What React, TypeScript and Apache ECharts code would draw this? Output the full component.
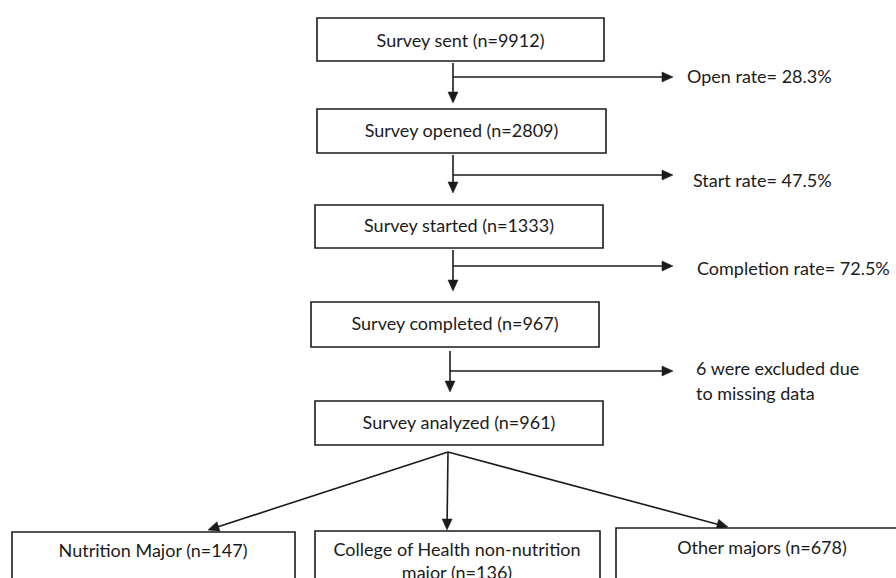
import { useEffect, useRef } from "react";
import * as echarts from "echarts";

// ---- data ----
const stageNames = ["Survey sent", "Survey opened", "Survey started", "Survey completed", "Survey analyzed"];
const stageCounts = [9912, 2809, 1333, 967, 961];
const rateNames = ["Open rate", "Start rate", "Completion rate"];
const rateValues = [28.3, 47.5, 72.5];
const excludedCount = 6;
const excludedReason = "were excluded due\nto missing data";
const groupNames = ["Nutrition Major", "College of Health non-nutrition\nmajor", "Other majors"];
const groupCounts = [147, 136, 678];

// ---- layout ----
const stageBoxes = [
  { x: 317, y: 18, w: 287, h: 43, ty: 40 },
  { x: 317, y: 109, w: 289, h: 44, ty: 130 },
  { x: 315, y: 205, w: 288, h: 43, ty: 225 },
  { x: 311, y: 302, w: 288, h: 45, ty: 323 },
  { x: 315, y: 401, w: 288, h: 44, ty: 422 },
];
const sideArrows = [
  { x: 453, y0: 63, y1: 103, hy: 77, tx: 687, ty: 76 },
  { x: 453, y0: 155, y1: 193, hy: 175, tx: 693, ty: 180 },
  { x: 453, y0: 250, y1: 291, hy: 266, tx: 697, ty: 268 },
  { x: 450, y0: 351, y1: 392, hy: 371, tx: 696, ty: 380.5 },
];
const arrowTipX = 673;
const groupBoxes = [
  { x: 12, y: 532, w: 283, h: 100, cx: 153, ty: 550 },
  { x: 315, y: 531, w: 285, h: 100, cx: 457, ty: 560.5 },
  { x: 616, y: 528, w: 292, h: 100, cx: 762, ty: 547 },
];
const apex = [448, 452];
const branchTips = [
  [208, 530],
  [447, 530],
  [728, 527],
];

const INK = "#1b1b1b";
const FONT = "Lato, 'Noto Sans', sans-serif";
const FS = 18;

function arrow(x0: number, y0: number, x1: number, y1: number): any[] {
  const len = Math.hypot(x1 - x0, y1 - y0);
  const dx = (x1 - x0) / len;
  const dy = (y1 - y0) / len;
  const L = 11;
  const W = 5;
  const bx = x1 - L * dx;
  const by = y1 - L * dy;
  return [
    {
      type: "line",
      shape: { x1: x0, y1: y0, x2: x1 - (L - 2) * dx, y2: y1 - (L - 2) * dy },
      style: { stroke: INK, lineWidth: 1.6 },
    },
    {
      type: "polygon",
      shape: {
        points: [
          [x1, y1],
          [bx - W * dy, by + W * dx],
          [bx + W * dy, by - W * dx],
        ],
      },
      style: { fill: INK, stroke: INK, lineWidth: 0.5 },
    },
  ];
}

function text(str: string, x: number, y: number, align: string, lineHeight = 24): any {
  return {
    type: "text",
    x,
    y,
    style: {
      text: str,
      fill: INK,
      fontSize: FS,
      fontFamily: FONT,
      align,
      textAlign: align,
      verticalAlign: "middle",
      textVerticalAlign: "middle",
      lineHeight,
    },
  };
}

function box(x: number, y: number, w: number, h: number): any {
  return {
    type: "rect",
    shape: { x, y, width: w, height: h },
    style: { fill: "#ffffff", stroke: INK, lineWidth: 1.6 },
  };
}

export default function App() {
  const ref = useRef<HTMLDivElement>(null);
  useEffect(() => {
    if (!ref.current) return;
    const chart = echarts.init(ref.current, undefined, { renderer: "svg" });
    const els: any[] = [];

    stageNames.forEach((name, i) => {
      const b = stageBoxes[i];
      els.push(box(b.x, b.y, b.w, b.h));
      els.push(text(`${name} (n=${stageCounts[i]})`, b.x + b.w / 2, b.ty, "center"));
    });

    sideArrows.forEach((a, i) => {
      els.push(...arrow(a.x, a.y0, a.x, a.y1));
      els.push(...arrow(a.x, a.hy, arrowTipX, a.hy));
      const label = i < rateNames.length ? `${rateNames[i]}= ${rateValues[i]}%` : `${excludedCount} ${excludedReason}`;
      els.push(text(label, a.tx, a.ty, "left", 25));
    });

    branchTips.forEach((t) => {
      els.push(...arrow(apex[0], apex[1], t[0], t[1]));
    });

    groupNames.forEach((name, i) => {
      const b = groupBoxes[i];
      els.push(box(b.x, b.y, b.w, b.h));
      els.push(text(`${name} (n=${groupCounts[i]})`, b.cx, b.ty, "center", 23));
    });

    chart.setOption({
      animation: false,
      backgroundColor: "#ffffff",
      graphic: { elements: els },
    });
    return () => chart.dispose();
  }, []);
  return (
    <div
      ref={ref}
      style={{ position: "fixed", left: 0, top: 0, width: 896, height: 578, background: "#fff" }}
    />
  );
}
